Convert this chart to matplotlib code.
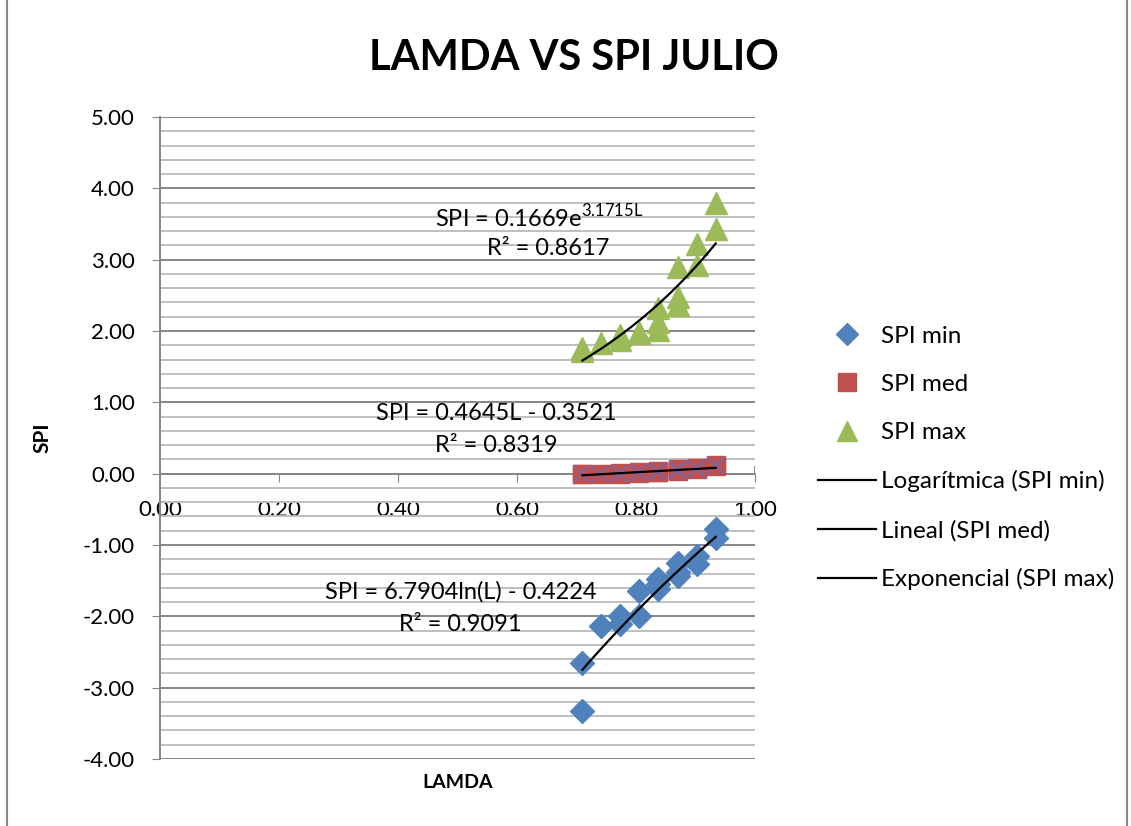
import numpy as np
import matplotlib
matplotlib.use("Agg")
import matplotlib.pyplot as plt
from matplotlib.lines import Line2D
from matplotlib.patches import Rectangle

plt.rcParams["font.family"] = ["Lato", "DejaVu Sans"]
plt.rcParams["mathtext.fontset"] = "custom"
plt.rcParams["mathtext.rm"] = "Lato"

# LAMDA values (shared by the three series) and SPI readings
lamda = [0.71, 0.71, 0.742, 0.773, 0.773, 0.805, 0.805, 0.837, 0.837, 0.837,
         0.87, 0.87, 0.87, 0.902, 0.902, 0.934, 0.934]
spi_min = [-2.65, -3.33, -2.14, -1.99, -2.11, -1.65, -1.99, -1.48, -1.55, -1.62,
           -1.25, -1.38, -1.44, -1.16, -1.27, -0.78, -0.90]
spi_med = [0.00, -0.01, 0.00, 0.01, 0.00, 0.02, 0.01, 0.04, 0.03, 0.02,
           0.06, 0.05, 0.04, 0.08, 0.07, 0.12, 0.11]
spi_max = [1.76, 1.72, 1.83, 1.95, 1.87, 1.97, 1.99, 2.32, 2.12, 2.01,
           2.90, 2.48, 2.37, 3.22, 2.93, 3.80, 3.43]

# trendline coefficients as printed on the chart
log_a, log_b = 6.7904, -0.4224
lin_a, lin_b = 0.4645, -0.3521
exp_a, exp_b = 0.1669, 3.1715

BLUE, RED, GREEN, PURPLE = "#4F81BD", "#C0504D", "#9BBB59", "#8064A2"
GRID = "#868686"

fig = plt.figure(figsize=(11.31, 8.26), dpi=100)
ax = fig.add_axes([160 / 1131, 1 - 759 / 826, 595 / 1131, 642 / 826])

L = np.array(lamda)
ax.plot(L, spi_min, "D", color=BLUE, ms=12, mec=BLUE, ls="none", zorder=3)
ax.plot(L, spi_med, "s", color=RED, ms=13, mec=RED, ls="none", zorder=3)
ax.plot(L, spi_med, "x", color=PURPLE, ms=12, mew=1.2, ls="none", zorder=3.5)
ax.plot(L, spi_max, "^", color=GREEN, ms=16, mec=GREEN, ls="none", zorder=3)

xs = np.linspace(L.min(), L.max(), 100)
ax.plot(xs, log_a * np.log(xs) + log_b, color="black", lw=1.6, zorder=4)
ax.plot(xs, lin_a * xs + lin_b, color="black", lw=1.6, zorder=4)
ax.plot(xs, exp_a * np.exp(exp_b * xs), color="black", lw=1.6, zorder=4)

ax.set_xlim(0, 1)
ax.set_ylim(-4, 5)
ax.set_yticks(np.arange(-4, 5.01, 1))
ax.set_yticks(np.arange(-4, 5.01, 0.2), minor=True)
ax.set_xticks(np.arange(0, 1.01, 0.2))
ax.yaxis.set_major_formatter(matplotlib.ticker.FormatStrFormatter("%.2f"))
ax.xaxis.set_major_formatter(matplotlib.ticker.FormatStrFormatter("%.2f"))
ax.grid(which="major", axis="y", color=GRID, lw=1.4)
ax.grid(which="minor", axis="y", color="#BFBFBF", lw=1.4)
ax.set_axisbelow(True)

for s in ["top", "right"]:
    ax.spines[s].set_visible(False)
ax.spines["bottom"].set_position(("data", 0))
for s in ["left", "bottom"]:
    ax.spines[s].set_color(GRID)
    ax.spines[s].set_linewidth(1.4)
ax.tick_params(axis="y", which="major", direction="out", length=6, color=GRID,
               labelsize=16, pad=12)
ax.tick_params(axis="y", which="minor", length=0)
ax.tick_params(axis="x", direction="out", length=6, color=GRID, labelsize=16, pad=13)
ax.axvline(1.0, ymin=4 / 9, ymax=4 / 9 + 0.01, color=GRID, lw=1.4)

ax.set_ylabel("SPI", fontsize=15, fontweight="bold", labelpad=22)
ax.text(0.5, -4.33, "LAMDA", fontsize=14, fontweight="bold", ha="center", va="center")
fig.text(574 / 1131, 1 - 58 / 826, "LAMDA VS SPI JULIO", fontsize=30,
         fontweight="bold", ha="center", va="center")

# equations
ax.text(0.638, 3.6, "SPI = 0.1669e$^{3.1715\\mathrm{L}}$", fontsize=17, ha="center", va="center")
ax.text(0.652, 3.15, "R² = 0.8617", fontsize=17, ha="center", va="center")
ax.text(0.566, 0.85, "SPI = 0.4645L - 0.3521", fontsize=17, ha="center", va="center")
ax.text(0.566, 0.39, "R² = 0.8319", fontsize=17, ha="center", va="center")
ax.text(0.505, -1.66, "SPI = 6.7904ln(L) - 0.4224", fontsize=17, ha="center", va="center")
ax.text(0.505, -2.11, "R² = 0.9091", fontsize=17, ha="center", va="center")

handles = [
    Line2D([], [], marker="D", color=BLUE, ls="none", ms=11),
    Line2D([], [], marker="s", color=RED, ls="none", ms=13),
    Line2D([], [], marker="^", color=GREEN, ls="none", ms=14),
    Line2D([], [], color="black", lw=1.6),
    Line2D([], [], color="black", lw=1.6),
    Line2D([], [], color="black", lw=1.6),
]
labels = ["SPI min", "SPI med", "SPI max", "Logarítmica (SPI min)",
          "Lineal (SPI med)", "Exponencial (SPI max)"]
fig.legend(handles, labels, loc="center left", bbox_to_anchor=(808 / 1131, 1 - 458 / 826),
           frameon=False, fontsize=17.5, labelspacing=1.12, handlelength=2.4,
           handletextpad=0.22, borderaxespad=0)

fig.patches.append(Rectangle((7 / 1131, -0.01), 1120 / 1131, 1.02, transform=fig.transFigure,
                             fill=False, edgecolor=GRID, lw=1.5))

fig.savefig("out.png", dpi=100)
